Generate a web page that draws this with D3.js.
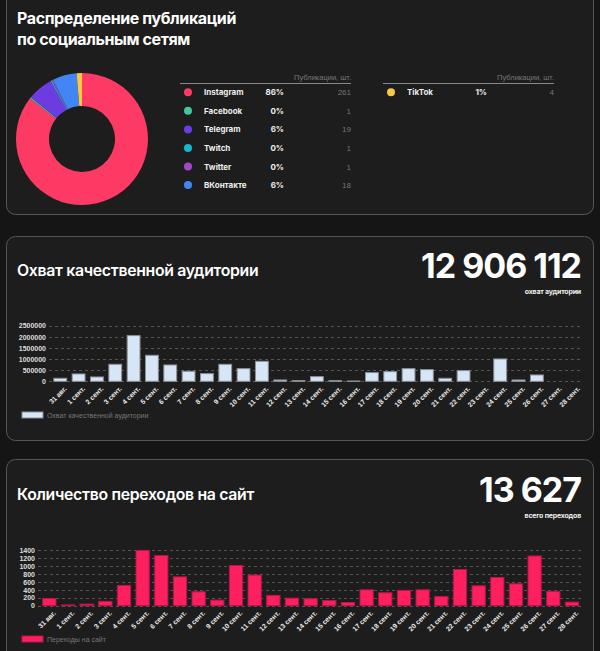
<!DOCTYPE html>
<html><head><meta charset="utf-8">
<script src="https://cdn.jsdelivr.net/npm/d3@7/dist/d3.min.js"></script>
<style>
html,body{margin:0;padding:0;background:#151515;}
svg{display:block;}
</style></head>
<body>
<svg id="c" width="600" height="651"></svg>
<script>
// ---------- DATA ----------
const networks = ["Instagram","Facebook","Telegram","Twitch","Twitter","ВКонтакте","TikTok"];
const pubCounts = [261,1,19,1,1,18,4];
const pubPercents = ["86%","0%","6%","0%","0%","6%","1%"];
const netColors = ["#fd3a63","#43c59e","#6c3ce0","#14b8c8","#a049c8","#4285f4","#f7c844"];

const dates = ["31 авг.","1 сент.","2 сент.","3 сент.","4 сент.","5 сент.","6 сент.","7 сент.","8 сент.","9 сент.",
  "10 сент.","11 сент.","12 сент.","13 сент.","14 сент.","15 сент.","16 сент.","17 сент.","18 сент.","19 сент.",
  "20 сент.","21 сент.","22 сент.","23 сент.","24 сент.","25 сент.","26 сент.","27 сент.","28 сент."];
const reach = [135000,330000,195000,765000,2055000,1170000,735000,450000,345000,765000,
  570000,900000,60000,30000,210000,30000,15000,390000,435000,570000,
  525000,135000,480000,0,1005000,60000,285000,0,0];
const reachTicks = [0,500000,1000000,1500000,2000000,2500000];
const visits = [180,20,40,110,510,1390,1260,725,350,140,
  1010,770,260,190,175,130,80,400,325,385,
  400,230,910,500,710,550,1250,360,90];
const visitTicks = [0,200,400,600,800,1000,1200,1400];

const reachTotal = "12 906 112";
const visitsTotal = "13 627";

// ---------- DRAW ----------
const svg = d3.select("#c");
const titleFont = "Inter, 'Noto Sans', sans-serif";
const axisFont = "'Liberation Sans', Arial, sans-serif";

// cards
[[6,-12,587,226],[6,236,587,204],[6,459,587,220]].forEach(([x,y,w,h])=>{
  svg.append("rect").attr("x",x+0.5).attr("y",y+0.5).attr("width",w).attr("height",h)
    .attr("rx",9).attr("fill","#1d1d1d").attr("stroke","#555").attr("stroke-width",1);
});

// ---- Card 1: donut ----
svg.append("text").attr("x",17).attr("y",24).attr("fill","#fff").attr("font-family",titleFont)
  .attr("font-weight",700).attr("font-size",16).attr("letter-spacing",-0.4).text("Распределение публикаций");
svg.append("text").attr("x",17).attr("y",45).attr("fill","#fff").attr("font-family",titleFont)
  .attr("font-weight",700).attr("font-size",16).attr("letter-spacing",-0.4).text("по социальным сетям");

const pie = d3.pie().sort(null).value(d=>d)(pubCounts);
const arc = d3.arc().innerRadius(33).outerRadius(66);
const dg = svg.append("g").attr("transform","translate(82,139)");
dg.selectAll("path").data(pie).join("path").attr("d",arc).attr("fill",(d,i)=>netColors[i]);

function legendTable(x0,x1,idxs){
  const g = svg.append("g");
  g.append("text").attr("x",x1).attr("y",80).attr("text-anchor","end").attr("fill","#777")
    .attr("font-family",axisFont).attr("font-size",7.5).text("Публикации, шт.");
  g.append("line").attr("x1",x0).attr("x2",x1).attr("y1",83.5).attr("y2",83.5).attr("stroke","#888").attr("stroke-width",1);
  idxs.forEach((i,k)=>{
    const y = 92.3 + k*18.55;
    g.append("circle").attr("cx",x0+8).attr("cy",y).attr("r",4).attr("fill",netColors[i]);
    g.append("text").attr("x",x0+24).attr("y",y+3).attr("fill","#eee").attr("font-family",titleFont)
      .attr("font-weight",700).attr("font-size",8).text(networks[i]);
    g.append("text").attr("x",x0+104).attr("y",y+3).attr("text-anchor","end").attr("fill","#eee")
      .attr("font-family",titleFont).attr("font-weight",700).attr("font-size",8).text(pubPercents[i]);
    g.append("text").attr("x",x1).attr("y",y+3).attr("text-anchor","end").attr("fill","#777")
      .attr("font-family",axisFont).attr("font-size",8).text(pubCounts[i]);
  });
}
legendTable(180,351,[0,1,2,3,4,5]);
legendTable(383,554,[6]);

// ---- bar chart helper ----
function barChart(opt){
  const x = d3.scaleBand().domain(dates).range(opt.xr).paddingInner(opt.pad).paddingOuter(opt.pad/2);
  const y = d3.scaleLinear().domain(opt.dom).range(opt.yr);
  const g = svg.append("g");
  const ya = d3.axisLeft(y).tickValues(opt.ticks).tickSize(0).tickPadding(3).tickFormat(d=>String(d));
  const yg = g.append("g").attr("transform",`translate(${opt.gx0},0)`).call(ya);
  yg.select(".domain").remove();
  yg.selectAll("text").attr("fill","#ddd").attr("font-family",axisFont).attr("font-weight",700).attr("font-size",7);
  g.selectAll("line.grid").data(opt.ticks).join("line").attr("class","grid")
    .attr("x1",opt.gx0).attr("x2",opt.gx1).attr("y1",d=>Math.round(y(d))+0.5).attr("y2",d=>Math.round(y(d))+0.5)
    .attr("stroke","#555").attr("stroke-dasharray","3,3").attr("stroke-width",1);
  g.selectAll("rect.bar").data(opt.values).join("rect").attr("class","bar")
    .attr("x",(d,i)=>x(dates[i])).attr("width",x.bandwidth())
    .attr("y",d=>y(d)).attr("height",d=>Math.max(0,y(0)-y(d)))
    .attr("fill",opt.fill).attr("stroke",opt.stroke).attr("stroke-width",1);
  const xa = d3.axisBottom(x).tickSize(0).tickPadding(0);
  const xg = g.append("g").attr("transform",`translate(0,${opt.yr[0]+5})`).call(xa);
  xg.select(".domain").remove();
  xg.selectAll("text").attr("fill","#eee").attr("font-family",axisFont).attr("font-weight",700).attr("font-size",6.8)
    .attr("text-anchor","end").attr("dy","0.6em").attr("transform","translate(4,0) rotate(-45)");
  g.append("rect").attr("x",22).attr("y",opt.ly).attr("width",21).attr("height",6)
    .attr("fill",opt.fill).attr("stroke",opt.stroke);
  g.append("text").attr("x",47).attr("y",opt.ly+5.5).attr("fill","#777").attr("font-family",axisFont)
    .attr("font-size",7).text(opt.legend);
}

function header(title,total,sub,ty,ny,sy){
  svg.append("text").attr("x",17).attr("y",ty).attr("fill","#fff").attr("font-family",titleFont)
    .attr("font-weight",600).attr("font-size",15.8).attr("letter-spacing",-0.3).text(title);
  svg.append("text").attr("x",581).attr("y",ny).attr("text-anchor","end").attr("fill","#fff").attr("font-family",titleFont)
    .attr("font-weight",700).attr("font-size",34).attr("letter-spacing",-1).text(total);
  svg.append("text").attr("x",581).attr("y",sy).attr("text-anchor","end").attr("fill","#eee").attr("font-family",titleFont)
    .attr("font-weight",700).attr("font-size",7).attr("letter-spacing",-0.2).text(sub);
}

// ---- Card 2 ----
header("Охват качественной аудитории",reachTotal,"охват аудитории",276,278,294);
barChart({values:reach, xr:[51.1,582.7], pad:0.3, dom:[0,2500000], yr:[381.3,325.7], ticks:reachTicks,
  gx0:49, gx1:581, fill:"#d6e6f7", stroke:"#8a8f96", ly:412, legend:"Охват качественной аудитории"});

// ---- Card 3 ----
header("Количество переходов на сайт",visitsTotal,"всего переходов",500,502,518);
barChart({values:visits, xr:[40,581.3], pad:0.29, dom:[0,1400], yr:[605.7,550], ticks:visitTicks,
  gx0:38, gx1:581, fill:"#fe1f5e", stroke:"#b8154a", ly:636, legend:"Переходы на сайт"});
</script>
</body></html>
